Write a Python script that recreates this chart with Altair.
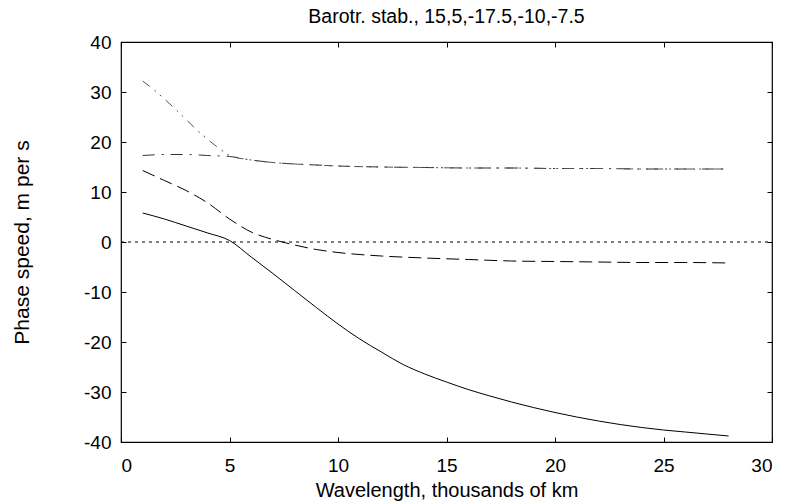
import altair as alt
import pandas as pd

# ---- data ----
x_solid = [1, 2, 3, 4, 5, 6, 7, 8, 9, 10, 11, 12, 13, 14, 15, 16, 17, 18, 19, 20,
           21, 22, 23, 24, 25, 26, 27, 28]
y_solid = [5.8, 4.6, 3.2, 1.8, 0.3, -3.0, -6.3, -9.7, -13.1, -16.4, -19.4, -22.0,
           -24.5, -26.4, -28.0, -29.5, -30.8, -32.0, -33.1, -34.1, -35.0, -35.8,
           -36.5, -37.1, -37.6, -38.0, -38.4, -38.8]

x_dash = [1, 2, 3, 4, 5, 6, 7, 8, 9, 10, 12, 14, 16, 18, 20, 22, 24, 26, 28]
y_dash = [14.3, 12.3, 10.3, 7.8, 4.6, 2.0, 0.5, -0.6, -1.5, -2.1, -2.8, -3.2,
          -3.5, -3.8, -3.9, -4.0, -4.1, -4.1, -4.2]

x_dashdot = [1, 2, 3, 4, 5, 6, 7, 8, 9, 10, 12, 14, 16, 18, 20, 22, 24, 26, 28]
y_dashdot = [17.3, 17.5, 17.5, 17.3, 17.1, 16.4, 15.9, 15.6, 15.4, 15.2, 15.0,
             14.9, 14.8, 14.8, 14.7, 14.7, 14.6, 14.6, 14.6]

x_dashdot2 = [1, 1.5, 2, 2.5, 3, 3.5, 4, 4.5, 5, 6, 7, 8, 9, 10, 12, 14, 16, 18,
              20, 22, 24, 26, 28]
y_dashdot2 = [32.2, 30.5, 28.6, 26.6, 24.5, 22.4, 20.5, 18.8, 17.3, 16.4, 15.9,
              15.6, 15.4, 15.2, 15.0, 14.9, 14.8, 14.8, 14.7, 14.7, 14.6, 14.6, 14.6]

zero_x = [0, 30]
zero_y = [0, 0]

x_ticks = [0, 5, 10, 15, 20, 25, 30]
y_ticks = [-40, -30, -20, -10, 0, 10, 20, 30, 40]

title_text = "Barotr. stab., 15,5,-17.5,-10,-7.5"
x_title = "Wavelength, thousands of km"
y_title = "Phase speed, m per s"

# ---- build tables ----
rows = []
for name, xs, ys in [("solid", x_solid, y_solid), ("dash", x_dash, y_dash),
                     ("dashdot", x_dashdot, y_dashdot),
                     ("dashdot2", x_dashdot2, y_dashdot2)]:
    for a, b in zip(xs, ys):
        rows.append({"series": name, "x": a, "y": b})
df = pd.DataFrame(rows)
zero_df = pd.DataFrame({"x": zero_x, "y": zero_y})

FONT = "Liberation Sans"
LABEL_EXPR = "datum.value < 0 ? '-' + abs(datum.value) : '' + datum.value"

xscale = alt.Scale(domain=[0, 30], nice=False, zero=False)
yscale = alt.Scale(domain=[-40, 40], nice=False, zero=False)

xaxis = alt.Axis(values=x_ticks, orient="bottom", offset=-5, tickSize=5,
                 domain=False, grid=False, labelPadding=14, labelFontSize=19,
                 labelFont=FONT, labelColor="black", tickColor="black",
                 labelExpr=LABEL_EXPR,
                 title=x_title, titleFont=FONT, titleFontSize=20,
                 titleFontWeight="normal", titleColor="black", titlePadding=5)
yaxis = alt.Axis(values=y_ticks, orient="left", offset=-5, tickSize=5,
                 domain=False, grid=False, labelPadding=10, labelFontSize=19,
                 labelFont=FONT, labelColor="black", tickColor="black",
                 labelExpr=LABEL_EXPR,
                 title=y_title, titleFont=FONT, titleFontSize=21,
                 titleFontWeight="normal", titleColor="black", titlePadding=51)

base = alt.Chart(df)


def series_layer(name, dash, color, width=1.0, axes=True):
    enc_x = alt.X("x:Q", scale=xscale, axis=xaxis if axes else None)
    enc_y = alt.Y("y:Q", scale=yscale, axis=yaxis if axes else None)
    mk = dict(color=color, strokeWidth=width, clip=True, interpolate="monotone")
    if dash:
        mk["strokeDash"] = dash
    return base.transform_filter(alt.datum.series == name).mark_line(**mk).encode(
        x=enc_x, y=enc_y)


solid = series_layer("solid", None, "black", 1.0, axes=True)
dash = series_layer("dash", [13, 6], "black", 1.0, axes=False)
dashdot = series_layer("dashdot", [12, 7, 2, 7], "#333333", 1.0, axes=False)
dashdot2 = series_layer("dashdot2", [9, 6, 2, 5, 2, 6], "#555555", 1.0, axes=False)

zero = alt.Chart(zero_df).mark_line(color="black", strokeWidth=1,
                                    strokeDash=[3, 4]).encode(
    x=alt.X("x:Q", scale=xscale, axis=None),
    y=alt.Y("y:Q", scale=yscale, axis=None))

mirror = alt.Chart(zero_df).mark_line(opacity=0).encode(
    x=alt.X("x:Q", scale=xscale,
            axis=alt.Axis(values=x_ticks, orient="top", offset=-5, tickSize=5,
                          domain=False, grid=False, labels=False, title="",
                          tickColor="black")),
    y=alt.Y("y:Q", scale=yscale,
            axis=alt.Axis(values=y_ticks, orient="right", offset=-5, tickSize=5,
                          domain=False, grid=False, labels=False, title="",
                          tickColor="black")))

chart = alt.layer(solid, dash, dashdot, dashdot2, zero, mirror).resolve_axis(
    x="independent", y="independent"
).properties(
    width=651, height=400,
    title=alt.TitleParams(title_text, font=FONT, fontSize=19.5,
                          fontWeight="normal", color="black", anchor="middle",
                          frame="group", baseline="alphabetic", offset=17, dy=26),
    autosize=alt.AutoSizeParams(type="none"),
    padding={"left": 121, "top": 42, "right": 15, "bottom": 62},
    background="white",
).configure_view(stroke="black", strokeWidth=1.2)

chart.save("out.html", embed_options={"renderer": "svg", "actions": False})
